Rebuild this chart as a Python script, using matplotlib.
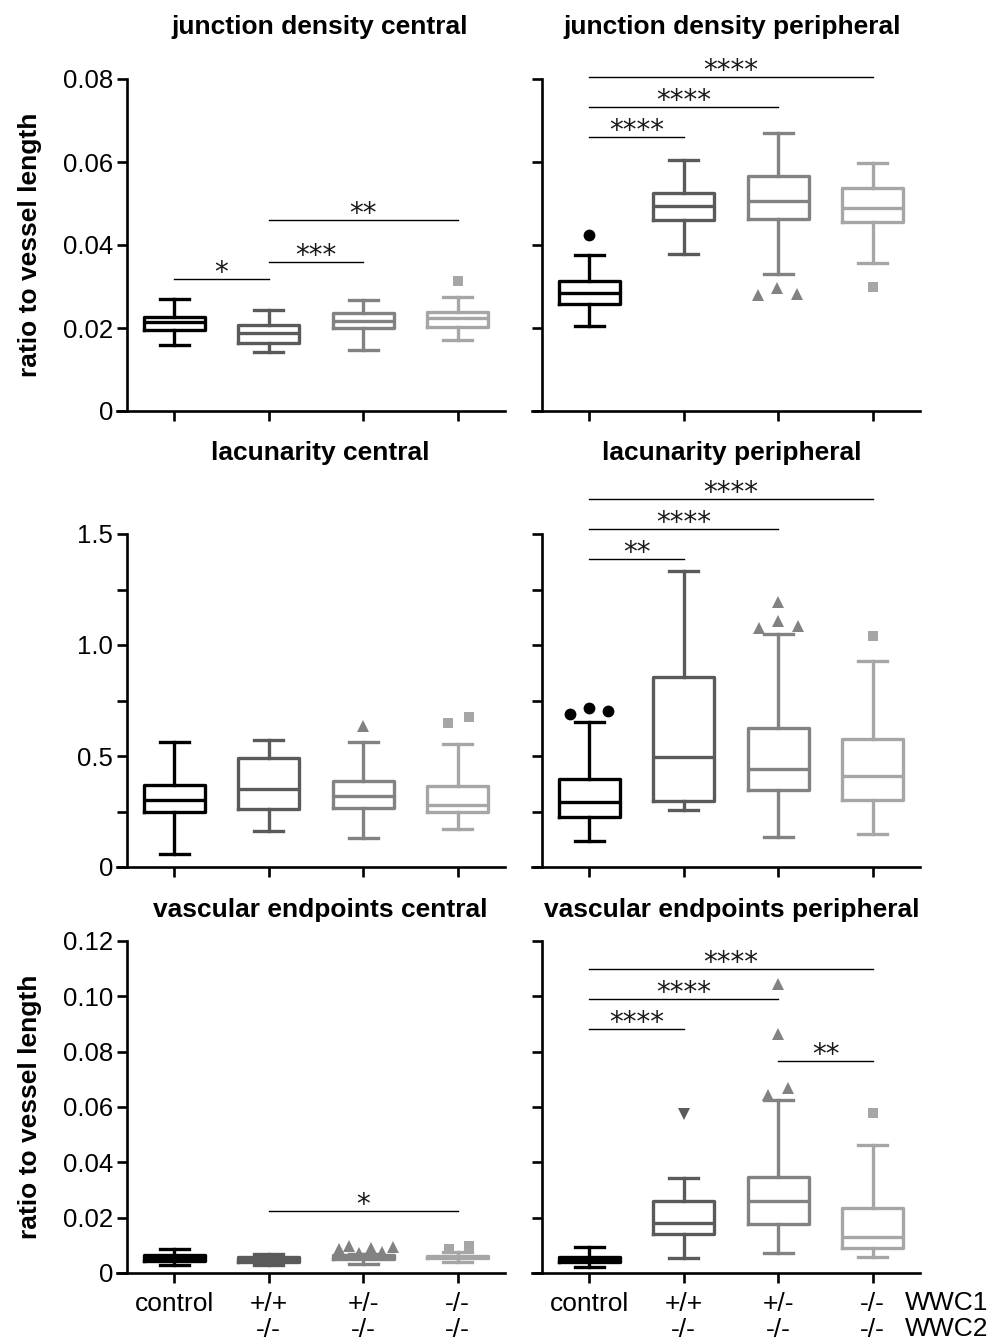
import numpy as np
import matplotlib
matplotlib.use("Agg")
import matplotlib.pyplot as plt

plt.rcParams['font.family'] = ['Liberation Sans', 'DejaVu Sans']

groups = ['control', '+/+\n-/-', '+/-\n-/-', '-/-\n-/-']
colors = ['#000000', '#5a5a5a', '#828282', '#a6a6a6']
markers = ['o', 'v', '^', 's']

# five number summaries per group: whisker low, q1, median, q3, whisker high
jd_central = [[0.0159, 0.0195, 0.0214, 0.0227, 0.0269],
              [0.0141, 0.0163, 0.0189, 0.0207, 0.0243],
              [0.0147, 0.0201, 0.0217, 0.0237, 0.0268],
              [0.0171, 0.0203, 0.0223, 0.0238, 0.0274]]
jd_central_out = [[], [], [], [0.0314]]
jd_central_sig = [(0, 1, 0.0318, '*'), (1, 2, 0.0359, '***'), (1, 3, 0.0460, '**')]

jd_periph = [[0.0205, 0.0259, 0.0284, 0.0313, 0.0376],
             [0.0379, 0.0460, 0.0495, 0.0525, 0.0605],
             [0.0331, 0.0463, 0.0506, 0.0566, 0.0669],
             [0.0357, 0.0456, 0.0490, 0.0538, 0.0598]]
jd_periph_out = [[0.0425], [], [0.0280, 0.0296, 0.0282], [0.0300]]
jd_periph_sig = [(0, 1, 0.0661, '****'), (0, 2, 0.0733, '****'), (0, 3, 0.0806, '****')]

lac_central = [[0.059, 0.247, 0.303, 0.368, 0.563],
               [0.160, 0.261, 0.351, 0.489, 0.574],
               [0.130, 0.265, 0.318, 0.387, 0.563],
               [0.170, 0.246, 0.280, 0.363, 0.554]]
lac_central_out = [[], [], [0.634], [0.649, 0.676]]
lac_central_sig = []

lac_periph = [[0.119, 0.223, 0.292, 0.396, 0.652],
              [0.258, 0.298, 0.496, 0.858, 1.334],
              [0.137, 0.345, 0.441, 0.625, 1.048],
              [0.149, 0.300, 0.408, 0.575, 0.928]]
lac_periph_out = [[0.687, 0.717, 0.702], [], [1.078, 1.108, 1.086, 1.194], [1.041]]
lac_periph_sig = [(0, 1, 1.387, '**'), (0, 2, 1.523, '****'), (0, 3, 1.658, '****')]

ep_central = [[0.0029, 0.0044, 0.0054, 0.0065, 0.0086],
              [0.0029, 0.0041, 0.0049, 0.0057, 0.0069],
              [0.0033, 0.0050, 0.0053, 0.0065, 0.0070],
              [0.0038, 0.0053, 0.0057, 0.0061, 0.0076]]
ep_central_out = [[], [], [0.0087, 0.0097, 0.0071, 0.0089, 0.0075, 0.0093], [0.0088, 0.0099]]
ep_central_sig = [(1, 3, 0.0224, '*')]

ep_periph = [[0.0023, 0.0041, 0.0050, 0.0057, 0.0095],
             [0.0055, 0.0140, 0.0180, 0.0261, 0.0342],
             [0.0071, 0.0176, 0.0260, 0.0348, 0.0625],
             [0.0059, 0.0092, 0.0129, 0.0234, 0.0463]]
ep_periph_out = [[], [0.0575], [0.0643, 0.0668, 0.0864, 0.1045], [0.0580]]
ep_periph_sig = [(0, 1, 0.0881, '****'), (0, 2, 0.0990, '****'), (0, 3, 0.1099, '****'),
                 (2, 3, 0.0766, '**')]

# horizontal spread of the outlier symbols (layout only)
jd_periph_jit = [[0], [], [-0.21, -0.01, 0.2], [0]]
jd_central_jit = [[], [], [], [0]]
lac_central_jit = [[], [], [0], [-0.1, 0.12]]
lac_periph_jit = [[-0.2, 0, 0.2], [], [-0.2, 0, 0.21, 0], [0]]
ep_central_jit = [[], [], [-0.26, -0.15, -0.04, 0.08, 0.2, 0.31], [-0.09, 0.12]]
ep_periph_jit = [[], [0], [-0.11, 0.1, 0, 0], [0]]

W, H = 1003, 1340
fig = plt.figure(figsize=(W / 100, H / 100), dpi=100)

col_x = [127, 542]
col_w = 378
row_top = [79, 534, 941]
row_bot = [411, 867, 1273]


def make_ax(r, c):
    x0 = col_x[c] / W
    y0 = 1 - row_bot[r] / H
    h = (row_bot[r] - row_top[r]) / H
    return fig.add_axes([x0, y0, col_w / W, h])


def draw_panel(ax, summ, outs, jit, sig, ymax, yticks, ylabels, show_labels, show_x):
    stats = []
    for s in summ:
        stats.append(dict(whislo=s[0], q1=s[1], med=s[2], q3=s[3], whishi=s[4], fliers=[]))
    res = ax.bxp(stats, positions=range(4), widths=0.65, capwidths=0.31,
                 showfliers=False)
    for i in range(4):
        c = colors[i]
        res['boxes'][i].set(color=c, linewidth=2.4)
        res['medians'][i].set(color=c, linewidth=2.4)
        for k in (2 * i, 2 * i + 1):
            res['whiskers'][k].set(color=c, linewidth=2.4)
            res['caps'][k].set(color=c, linewidth=2.4)
        if outs[i]:
            xs = [i + d for d in jit[i]]
            ms = 7 if markers[i] == 's' else 8.5
            ax.plot(xs, outs[i], linestyle='none', marker=markers[i], color=c,
                    markersize=ms, markeredgewidth=0, clip_on=False)
    for a, b, y, txt in sig:
        ax.plot([a, b], [y, y], color='black', linewidth=1.0, clip_on=False)
        ax.annotate(txt, xy=((a + b) / 2, y), xytext=(0, -1.5), textcoords='offset points',
                    ha='center', va='baseline', fontsize=20, family='DejaVu Sans',
                    color='#1a1a1a', annotation_clip=False)
    ax.set_xlim(-0.5, 3.5)
    ax.set_ylim(0, ymax)
    for s in ('top', 'right'):
        ax.spines[s].set_visible(False)
    for s in ('left', 'bottom'):
        ax.spines[s].set_linewidth(1.9)
    ax.spines['bottom'].set_bounds(-0.5 - 10 / 94.5, 3.5)
    ax.set_yticks(yticks)
    ax.set_yticklabels(ylabels if show_labels else [''] * len(yticks))
    ax.set_xticks(range(4))
    ax.set_xticklabels(groups if show_x else [''] * 4, linespacing=1.1)
    ax.tick_params(direction='out', length=7, width=1.9, color='black')
    ax.tick_params(axis='x', pad=7, labelsize=19)
    ax.tick_params(axis='y', pad=3, labelsize=18.5)


jd_ticks = [0, 0.02, 0.04, 0.06, 0.08]
jd_lbls = ['0', '0.02', '0.04', '0.06', '0.08']
lac_ticks = [0, 0.25, 0.5, 0.75, 1.0, 1.25, 1.5]
lac_lbls = ['0', '', '0.5', '', '1.0', '', '1.5']
ep_ticks = [0, 0.02, 0.04, 0.06, 0.08, 0.10, 0.12]
ep_lbls = ['0', '0.02', '0.04', '0.06', '0.08', '0.10', '0.12']

ax = make_ax(0, 0)
draw_panel(ax, jd_central, jd_central_out, jd_central_jit, jd_central_sig, 0.08, jd_ticks, jd_lbls, True, False)
ax = make_ax(0, 1)
draw_panel(ax, jd_periph, jd_periph_out, jd_periph_jit, jd_periph_sig, 0.08, jd_ticks, jd_lbls, False, False)
ax = make_ax(1, 0)
draw_panel(ax, lac_central, lac_central_out, lac_central_jit, lac_central_sig, 1.5, lac_ticks, lac_lbls, True, False)
ax = make_ax(1, 1)
draw_panel(ax, lac_periph, lac_periph_out, lac_periph_jit, lac_periph_sig, 1.5, lac_ticks, lac_lbls, False, False)
ax = make_ax(2, 0)
draw_panel(ax, ep_central, ep_central_out, ep_central_jit, ep_central_sig, 0.12, ep_ticks, ep_lbls, True, True)
ax = make_ax(2, 1)
draw_panel(ax, ep_periph, ep_periph_out, ep_periph_jit, ep_periph_sig, 0.12, ep_ticks, ep_lbls, False, True)

titles = [('junction density central', 320, 34), ('junction density peripheral', 732, 34),
          ('lacunarity central', 320, 460), ('lacunarity peripheral', 732, 460),
          ('vascular endpoints central', 320, 917), ('vascular endpoints peripheral', 732, 917)]
for t, x, y in titles:
    fig.text(x / W, 1 - y / H, t, ha='center', va='baseline', fontsize=19, fontweight='bold')

for yc in (245, 1107):
    fig.text(30 / W, 1 - yc / H, 'ratio to vessel length', rotation=90, ha='center',
             va='center', fontsize=19, fontweight='bold')

fig.text(905 / W, 1 - 1291 / H, 'WWC1\nWWC2', ha='left', va='top', fontsize=19,
         linespacing=1.1)

fig.savefig('out.png', dpi=100)
